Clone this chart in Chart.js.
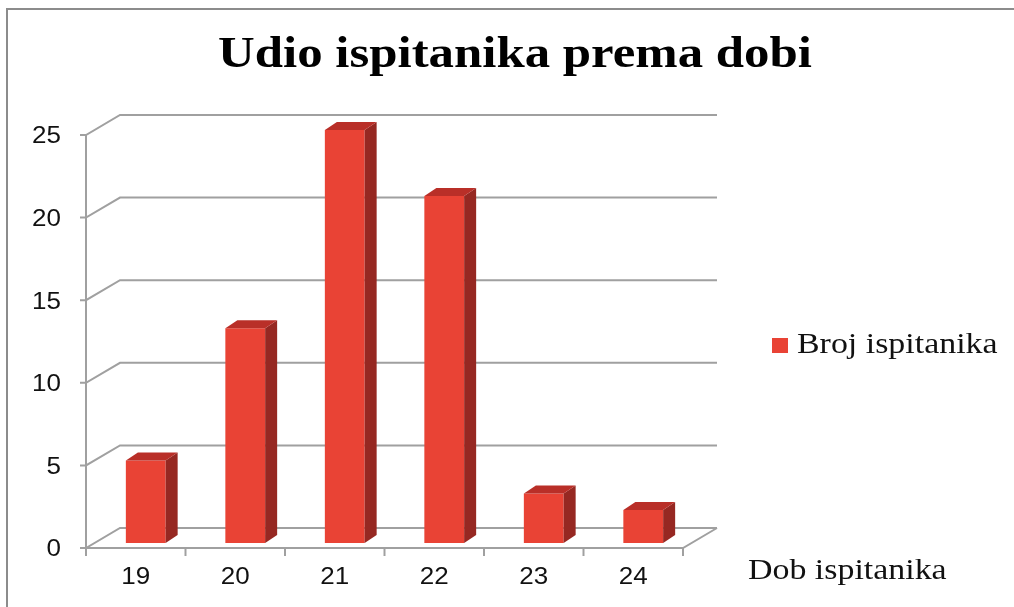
<!DOCTYPE html>
<html>
<head>
<meta charset="utf-8">
<script src="https://cdn.jsdelivr.net/npm/chart.js@4/dist/chart.umd.min.js"></script>
<style>
html,body{margin:0;padding:0;background:#fff;}
#wrap{width:1014px;height:607px;position:relative;}
canvas{display:block;}
</style>
</head>
<body>
<div id="wrap"><canvas id="c" width="1014" height="607"></canvas></div>
<script>
const chartTitle = 'Udio ispitanika prema dobi';
const categories = ['19', '20', '21', '22', '23', '24'];
const seriesName = 'Broj ispitanika';
const seriesValues = [5, 13, 25, 21, 3, 2];
const yTicks = [0, 5, 10, 15, 20, 25];
const xAxisTitle = 'Dob ispitanika';

const FRONT = '#E94335';
const SIDE = '#962822';
const TOP = '#B92F28';
const GRID = '#A0A0A0';
const BACK = {dx: 34, dy: -20};
const BAROFF = {dx: 10, dy: -5};
const DEPTH = {dx: 12, dy: -8};
const STRETCH = 1.13;
const SERIF = '"Liberation Serif", "Times New Roman", serif';
const SANS = '"Liberation Sans", Arial, sans-serif';

// draw text horizontally stretched, anchored at x according to align
function stretchedText(ctx, text, x, y, align) {
  const w = ctx.measureText(text).width * STRETCH;
  let left = x;
  if (align === 'center') left = x - w / 2;
  else if (align === 'right') left = x - w;
  ctx.save();
  ctx.textAlign = 'left';
  ctx.translate(left, y);
  ctx.scale(STRETCH, 1);
  ctx.fillText(text, 0, 0);
  ctx.restore();
}

const threeD = {
  id: 'threeD',
  beforeDraw(chart) {
    const ctx = chart.ctx;
    ctx.save();
    ctx.strokeStyle = '#8C8C8C';
    ctx.lineWidth = 2;
    ctx.strokeRect(7, 9, 1100, 700);
    ctx.fillStyle = '#000';
    ctx.font = 'bold 45px ' + SERIF;
    ctx.textBaseline = 'alphabetic';
    stretchedText(ctx, chartTitle, 515, 67, 'center');
    ctx.restore();
  },
  beforeDatasetsDraw(chart) {
    const ctx = chart.ctx;
    const xs = chart.scales.x, ys = chart.scales.y;
    const L = chart.chartArea.left, R = chart.chartArea.right;
    const y0 = ys.getPixelForValue(0);
    ctx.save();
    ctx.strokeStyle = GRID;
    ctx.lineWidth = 2;
    yTicks.forEach(v => {
      const y = ys.getPixelForValue(v);
      ctx.beginPath();
      ctx.moveTo(L - 6, y);
      ctx.lineTo(L, y);
      ctx.lineTo(L + BACK.dx, y + BACK.dy);
      ctx.lineTo(R + BACK.dx, y + BACK.dy);
      ctx.stroke();
    });
    ctx.beginPath();
    ctx.moveTo(L, ys.getPixelForValue(yTicks[yTicks.length - 1]));
    ctx.lineTo(L, y0);
    ctx.stroke();
    ctx.beginPath();
    ctx.moveTo(L, y0);
    ctx.lineTo(R, y0);
    ctx.lineTo(R + BACK.dx, y0 + BACK.dy);
    ctx.stroke();
    const n = categories.length;
    for (let i = 0; i <= n; i++) {
      const x = L + (R - L) * i / n;
      ctx.beginPath();
      ctx.moveTo(x, y0);
      ctx.lineTo(x, y0 + 8);
      ctx.stroke();
    }
    ctx.fillStyle = '#111';
    ctx.font = '23px ' + SANS;
    ctx.textBaseline = 'middle';
    yTicks.forEach(v => stretchedText(ctx, String(v), L - 25, ys.getPixelForValue(v) + 2, 'right'));
    categories.forEach((c, i) => stretchedText(ctx, c, xs.getPixelForValue(i), y0 + 30, 'center'));
    ctx.font = '30px ' + SERIF;
    ctx.textBaseline = 'alphabetic';
    stretchedText(ctx, xAxisTitle, 748, 579, 'left');
    ctx.fillStyle = FRONT;
    ctx.fillRect(772, 338, 16, 15);
    ctx.fillStyle = '#111';
    stretchedText(ctx, seriesName, 797, 353, 'left');
    ctx.restore();
    ctx.save();
    ctx.translate(BAROFF.dx, BAROFF.dy);
  },
  afterDatasetsDraw(chart) {
    const ctx = chart.ctx;
    ctx.restore();
    const meta = chart.getDatasetMeta(0);
    ctx.save();
    meta.data.forEach(bar => {
      const p = bar.getProps(['x', 'y', 'base', 'width'], true);
      const l = p.x - p.width / 2 + BAROFF.dx;
      const r = p.x + p.width / 2 + BAROFF.dx;
      const t = p.y + BAROFF.dy;
      const b = p.base + BAROFF.dy;
      ctx.fillStyle = SIDE;
      ctx.beginPath();
      ctx.moveTo(r, b);
      ctx.lineTo(r + DEPTH.dx, b + DEPTH.dy);
      ctx.lineTo(r + DEPTH.dx, t + DEPTH.dy);
      ctx.lineTo(r, t);
      ctx.closePath();
      ctx.fill();
      ctx.fillStyle = TOP;
      ctx.beginPath();
      ctx.moveTo(l, t);
      ctx.lineTo(l + DEPTH.dx, t + DEPTH.dy);
      ctx.lineTo(r + DEPTH.dx, t + DEPTH.dy);
      ctx.lineTo(r, t);
      ctx.closePath();
      ctx.fill();
    });
    ctx.restore();
  }
};

new Chart(document.getElementById('c'), {
  type: 'bar',
  data: {
    labels: categories,
    datasets: [{
      label: seriesName,
      data: seriesValues,
      backgroundColor: FRONT,
      borderWidth: 0,
      categoryPercentage: 1.0,
      barPercentage: 0.4,
      clip: false
    }]
  },
  options: {
    responsive: false,
    animation: false,
    events: [],
    layout: {padding: {left: 86, right: 331, top: 135, bottom: 59}},
    plugins: {legend: {display: false}, tooltip: {enabled: false}, title: {display: false}},
    scales: {
      x: {display: false},
      y: {display: false, min: 0, max: 25, ticks: {stepSize: 5}}
    }
  },
  plugins: [threeD]
});
</script>
</body>
</html>
